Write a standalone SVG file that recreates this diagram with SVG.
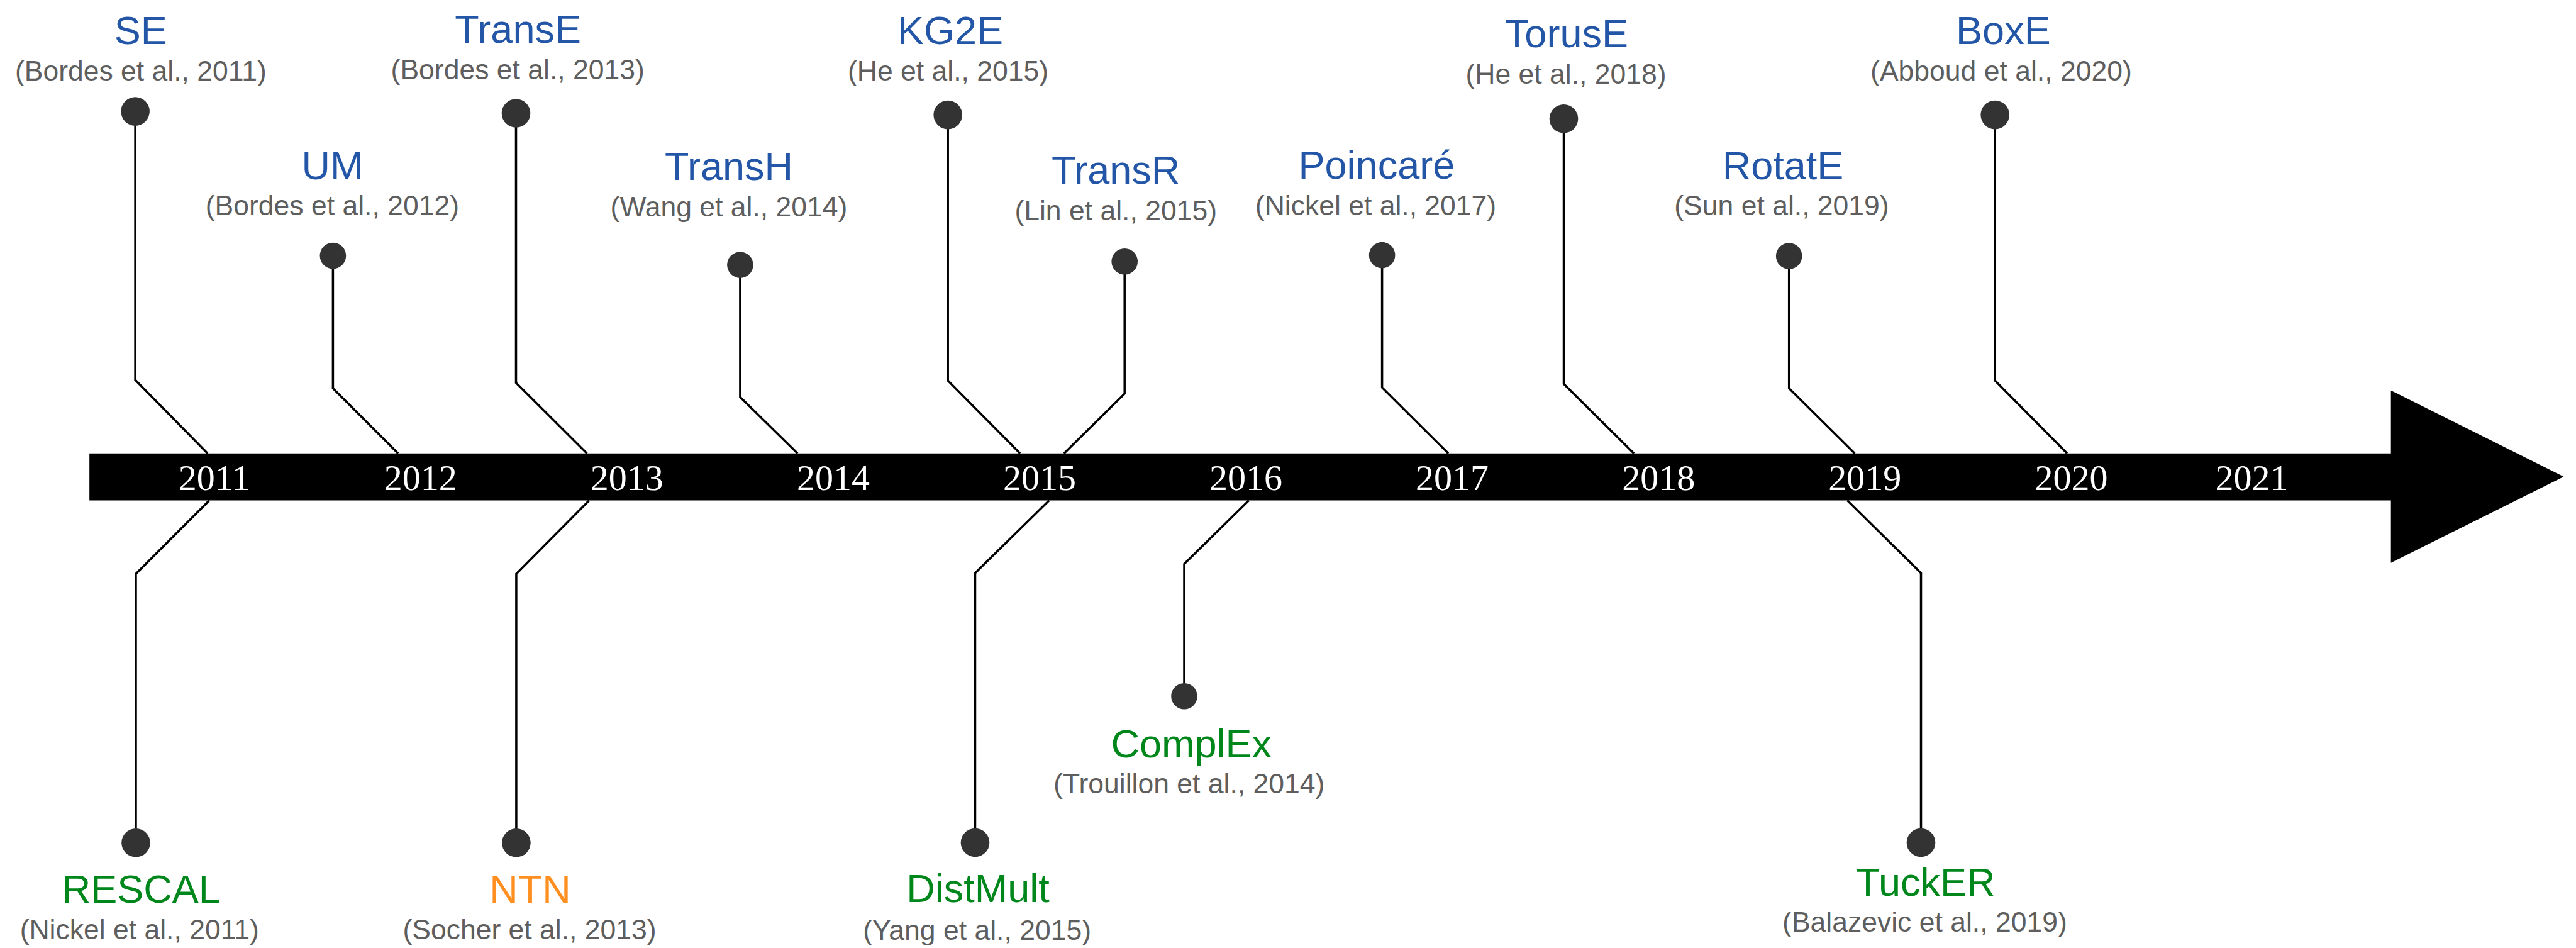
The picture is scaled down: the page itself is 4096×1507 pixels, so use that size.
<svg xmlns="http://www.w3.org/2000/svg" width="4096" height="1507" viewBox="0 0 4096 1507">
<style>
.name{font-family:"Liberation Sans",Arial,sans-serif;font-size:63px;text-anchor:middle}
.blue{fill:#2456a8}
.green{fill:#00871c}
.orange{fill:#ff8f20}
.cite{font-family:"Liberation Sans",Arial,sans-serif;font-size:44.5px;fill:#5e5e5e;text-anchor:middle}
.year{font-family:"Liberation Serif","Times New Roman",serif;font-size:58px;fill:#ffffff;text-anchor:middle}
.conn{fill:none;stroke:#000000;stroke-width:3.5}
.dot{fill:#333333}
</style>
<rect width="4096" height="1507" fill="#ffffff"/>
<g id="connectors" class="conn">
<path d="M215.1,177.1 V604.1 L330.1,720.8"/>
<path d="M529.4,406.5 V617.2 L633,720.8"/>
<path d="M820.5,180 V608.5 L933.3,720.8"/>
<path d="M1176.9,421.1 V631.3 L1268.2,720.8"/>
<path d="M1507.2,182.6 V605 L1622,720.8"/>
<path d="M1788.2,415.7 V625.8 L1691.9,720.8"/>
<path d="M2197.6,405.6 V615.9 L2303,720.8"/>
<path d="M2486.5,188.8 V610.2 L2598,720.8"/>
<path d="M2844.7,407 V617.2 L2949.2,720.8"/>
<path d="M3172.2,182.6 V605 L3286.9,720.8"/>
<path d="M332.8,795.5 L216,912.2 V1339.8"/>
<path d="M936.8,795.5 L820.9,912.2 V1339.8"/>
<path d="M1668.2,795.5 L1550.5,911.1 V1339.5"/>
<path d="M1985.7,795.5 L1883,896.4 V1106.8"/>
<path d="M2937.4,795.5 L3054.5,911 V1339.5"/>
</g>
<g id="timeline">
<path d="M142.2,720.8 H3801.7 V620.7 L4076.5,757.7 L3801.7,894.7 V795.5 H142.2 Z" fill="#000000"/>
<text class="year" x="340.7" y="779">2011</text>
<text class="year" x="668.8" y="779">2012</text>
<text class="year" x="996.8" y="779">2013</text>
<text class="year" x="1324.9" y="779">2014</text>
<text class="year" x="1653" y="779">2015</text>
<text class="year" x="1981.1" y="779">2016</text>
<text class="year" x="2309.1" y="779">2017</text>
<text class="year" x="2637.2" y="779">2018</text>
<text class="year" x="2965.3" y="779">2019</text>
<text class="year" x="3293.4" y="779">2020</text>
<text class="year" x="3580.5" y="779">2021</text>
</g>
<g id="node-SE">
<circle class="dot" cx="215.1" cy="177.1" r="22.8"/>
<text class="name blue" x="223.7" y="70.2">SE</text>
<text class="cite" x="223.9" y="128.2">(Bordes et al., 2011)</text>
</g>
<g id="node-UM">
<circle class="dot" cx="529.4" cy="406.5" r="20.8"/>
<text class="name blue" x="528.6" y="285.4">UM</text>
<text class="cite" x="528.4" y="342.4">(Bordes et al., 2012)</text>
</g>
<g id="node-TransE">
<circle class="dot" cx="820.5" cy="180" r="22.8"/>
<text class="name blue" x="823.6" y="67.9">TransE</text>
<text class="cite" x="823.2" y="126.4">(Bordes et al., 2013)</text>
</g>
<g id="node-TransH">
<circle class="dot" cx="1176.9" cy="421.1" r="20.8"/>
<text class="name blue" x="1159" y="286.2">TransH</text>
<text class="cite" x="1159" y="344.2">(Wang et al., 2014)</text>
</g>
<g id="node-KG2E">
<circle class="dot" cx="1507.2" cy="182.6" r="22.8"/>
<text class="name blue" x="1511" y="70.2">KG2E</text>
<text class="cite" x="1507.5" y="128.2">(He et al., 2015)</text>
</g>
<g id="node-TransR">
<circle class="dot" cx="1788.2" cy="415.7" r="20.8"/>
<text class="name blue" x="1774.2" y="292.4">TransR</text>
<text class="cite" x="1774.2" y="350.3">(Lin et al., 2015)</text>
</g>
<g id="node-Poincare">
<circle class="dot" cx="2197.6" cy="405.6" r="20.8"/>
<text class="name blue" x="2188.9" y="284">Poincaré</text>
<text class="cite" x="2187.5" y="342.4">(Nickel et al., 2017)</text>
</g>
<g id="node-TorusE">
<circle class="dot" cx="2486.5" cy="188.8" r="22.8"/>
<text class="name blue" x="2490.9" y="74.5">TorusE</text>
<text class="cite" x="2490" y="133.3">(He et al., 2018)</text>
</g>
<g id="node-RotatE">
<circle class="dot" cx="2844.7" cy="407" r="20.8"/>
<text class="name blue" x="2835" y="285.4">RotatE</text>
<text class="cite" x="2833" y="342.4">(Sun et al., 2019)</text>
</g>
<g id="node-BoxE">
<circle class="dot" cx="3172.2" cy="182.6" r="22.8"/>
<text class="name blue" x="3185.4" y="70">BoxE</text>
<text class="cite" x="3181.9" y="127.7">(Abboud et al., 2020)</text>
</g>
<g id="node-RESCAL">
<circle class="dot" cx="216" cy="1339.8" r="22.8"/>
<text class="name green" x="224.8" y="1434.7">RESCAL</text>
<text class="cite" x="221.7" y="1492.6">(Nickel et al., 2011)</text>
</g>
<g id="node-NTN">
<circle class="dot" cx="820.9" cy="1339.8" r="22.8"/>
<text class="name orange" x="842.9" y="1434.7">NTN</text>
<text class="cite" x="842" y="1492.6">(Socher et al., 2013)</text>
</g>
<g id="node-DistMult">
<circle class="dot" cx="1550.5" cy="1339.5" r="22.8"/>
<text class="name green" x="1555" y="1433.8">DistMult</text>
<text class="cite" x="1553.6" y="1493.5">(Yang et al., 2015)</text>
</g>
<g id="node-ComplEx">
<circle class="dot" cx="1883" cy="1106.8" r="20.8"/>
<text class="name green" x="1894.3" y="1203.7">ComplEx</text>
<text class="cite" x="1890.7" y="1261.4">(Trouillon et al., 2014)</text>
</g>
<g id="node-TuckER">
<circle class="dot" cx="3054.5" cy="1339.5" r="22.8"/>
<text class="name green" x="3061.6" y="1423.9">TuckER</text>
<text class="cite" x="3060.4" y="1480.8">(Balazevic et al., 2019)</text>
</g>
</svg>
